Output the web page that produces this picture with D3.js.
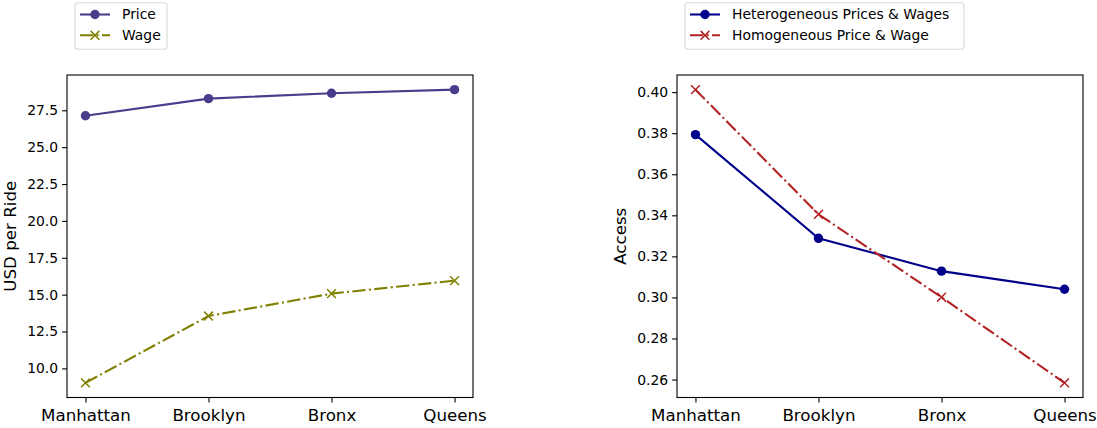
<!DOCTYPE html>
<html>
<head>
<meta charset="utf-8">
<script src="https://cdn.jsdelivr.net/npm/d3@7"></script>
<style>
  body { margin: 0; background: #fff; }
  svg, svg text { font-family: "DejaVu Sans", sans-serif; }
</style>
</head>
<body>
<svg id="chart" width="1097" height="428"></svg>
<script>
const boroughs = ["Manhattan", "Brooklyn", "Bronx", "Queens"];

const price = [27.13, 28.29, 28.66, 28.9];
const wage = [9.02, 13.55, 15.07, 15.95];

const heterogeneous = [0.3793, 0.3288, 0.3128, 0.304];
const homogeneous = [0.4012, 0.3405, 0.3001, 0.2584];

const priceTicks = [10.0, 12.5, 15.0, 17.5, 20.0, 22.5, 25.0, 27.5];
const accessTicks = [0.26, 0.28, 0.30, 0.32, 0.34, 0.36, 0.38, 0.40];

const svg = d3.select("#chart");
const dashDot = "13.3,3.3,2.1,3.3";

// matplotlib-like 5% margins
const padded = (vals) => {
  const [lo, hi] = d3.extent(vals);
  const m = (hi - lo) * 0.05;
  return [lo - m, hi + m];
};

const drawPanel = (opts) => {
  const { left, right, top, bottom, series, yTicks, yFormat, yLabel, legend } = opts;
  const g = svg.append("g");

  const x = d3.scaleLinear().domain([-0.15, 3.15]).range([left, right]);
  const allVals = series.flatMap((s) => s.values);
  const y = d3.scaleLinear().domain(padded(allVals)).range([bottom, top]);

  const xAxis = d3.axisBottom(x)
    .tickValues(d3.range(boroughs.length))
    .tickFormat((i) => boroughs[i])
    .tickSize(4.9)
    .tickPadding(4);
  const yAxis = d3.axisLeft(y)
    .tickValues(yTicks)
    .tickFormat(d3.format(yFormat))
    .tickSize(4.9)
    .tickPadding(4);

  const gx = g.append("g").attr("transform", `translate(0,${bottom})`).call(xAxis)
    .attr("font-family", null);
  gx.select(".domain").remove();
  gx.selectAll("text").attr("font-size", 16.7).attr("fill", "#000").attr("dy", "0.85em");
  gx.selectAll("line").attr("stroke", "#000").attr("stroke-width", 1.1);

  const gy = g.append("g").attr("transform", `translate(${left},0)`).call(yAxis)
    .attr("font-family", null);
  gy.select(".domain").remove();
  gy.selectAll("text").attr("font-size", 13.9).attr("fill", "#000");
  gy.selectAll("line").attr("stroke", "#000").attr("stroke-width", 1.1);

  g.append("text")
    .attr("transform", `translate(${opts.labelX},${(top + bottom) / 2}) rotate(-90)`)
    .attr("text-anchor", "middle")
    .attr("font-size", 16.7)
    .text(yLabel);

  const line = d3.line().x((d, i) => x(i)).y((d) => y(d));

  series.forEach((s) => {
    g.append("path")
      .attr("d", line(s.values))
      .attr("fill", "none")
      .attr("stroke", s.color)
      .attr("stroke-width", 2.08)
      .attr("stroke-dasharray", s.dash ? dashDot : null);
    drawMarkers(g, s, s.values.map((v, i) => [x(i), y(v)]));
  });

  g.append("rect")
    .attr("x", left).attr("y", top)
    .attr("width", right - left).attr("height", bottom - top)
    .attr("fill", "none").attr("stroke", "#000").attr("stroke-width", 1.1);

  // legend
  const lg = svg.append("g");
  lg.append("rect")
    .attr("x", legend.x).attr("y", 2.7)
    .attr("width", legend.w).attr("height", 46.5)
    .attr("rx", 3)
    .attr("fill", "#fff").attr("stroke", "#d9d9d9").attr("stroke-width", 1.1);
  series.forEach((s, i) => {
    const yy = 14.5 + i * 20.8;
    const x0 = legend.x + 5;
    lg.append("line")
      .attr("x1", x0).attr("x2", x0 + 30)
      .attr("y1", yy).attr("y2", yy)
      .attr("stroke", s.color).attr("stroke-width", 2.08)
      .attr("stroke-dasharray", s.dash ? dashDot : null);
    drawMarkers(lg, s, [[x0 + 15, yy]]);
    lg.append("text")
      .attr("x", x0 + 42).attr("y", yy)
      .attr("dy", "0.35em")
      .attr("font-size", 13.9)
      .text(s.name);
  });
};

function drawMarkers(g, s, pts) {
  pts.forEach(([px, py]) => {
    if (s.marker === "o") {
      g.append("circle").attr("cx", px).attr("cy", py).attr("r", 4.7).attr("fill", s.color);
    } else {
      const r = 4.4;
      g.append("path")
        .attr("d", `M${px - r},${py - r}L${px + r},${py + r}M${px - r},${py + r}L${px + r},${py - r}`)
        .attr("stroke", s.color).attr("stroke-width", 1.5).attr("fill", "none");
    }
  });
}

drawPanel({
  left: 67, right: 473, top: 75, bottom: 397.5,
  series: [
    { name: "Price", values: price, color: "#483d8b", marker: "o", dash: false },
    { name: "Wage", values: wage, color: "#808000", marker: "x", dash: true }
  ],
  yTicks: priceTicks, yFormat: ".1f", yLabel: "USD per Ride", labelX: 16,
  legend: { x: 75, w: 92 }
});

drawPanel({
  left: 677, right: 1083, top: 75, bottom: 397.5,
  series: [
    { name: "Heterogeneous Prices & Wages", values: heterogeneous, color: "#00008b", marker: "o", dash: false },
    { name: "Homogeneous Price & Wage", values: homogeneous, color: "#b22222", marker: "x", dash: true }
  ],
  yTicks: accessTicks, yFormat: ".2f", yLabel: "Access", labelX: 626,
  legend: { x: 685, w: 279 }
});
</script>
</body>
</html>
